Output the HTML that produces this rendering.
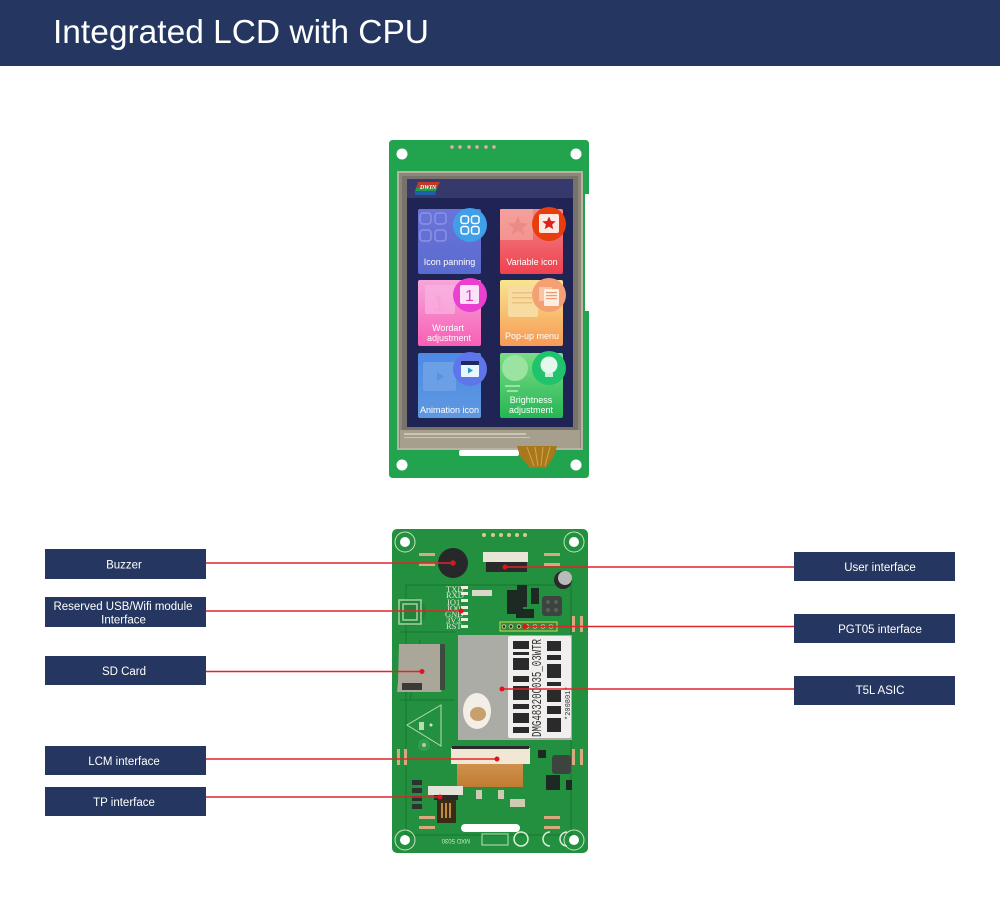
<!DOCTYPE html>
<html><head><meta charset="utf-8"><style>
html,body{margin:0;padding:0;background:#fff}
svg{display:block}
text{font-family:"Liberation Sans",sans-serif}
.l{fill:#fff;font-size:11.5px;text-anchor:middle}
.c{fill:#fff;font-size:9px;text-anchor:middle}
.s{font-family:"Liberation Serif",serif;font-size:8.5px;fill:#dfe8d6}
</style></head><body>
<svg width="1000" height="900" viewBox="0 0 1000 900" xmlns="http://www.w3.org/2000/svg">
<defs>
<linearGradient id="a" x1="0" y1="0" x2="0" y2="1"><stop offset="0" stop-color="#6a74d8"/><stop offset="1" stop-color="#5a6bd0"/></linearGradient>
<linearGradient id="b" x1="0" y1="0" x2="0" y2="1"><stop offset="0" stop-color="#f08a88"/><stop offset="1" stop-color="#f0414f"/></linearGradient>
<linearGradient id="c" x1="0" y1="0" x2="0" y2="1"><stop offset="0" stop-color="#f7a6dc"/><stop offset="1" stop-color="#f75fb5"/></linearGradient>
<linearGradient id="d" x1="0" y1="0" x2="0" y2="1"><stop offset="0" stop-color="#f7e58e"/><stop offset="1" stop-color="#f79a55"/></linearGradient>
<linearGradient id="e" x1="0" y1="0" x2="0" y2="1"><stop offset="0" stop-color="#4c8ae6"/><stop offset="1" stop-color="#5f98e0"/></linearGradient>
<linearGradient id="f" x1="0" y1="0" x2="0" y2="1"><stop offset="0" stop-color="#7cdc88"/><stop offset="1" stop-color="#25b653"/></linearGradient>
<linearGradient id="g" x1="0" y1="0" x2="0" y2="1"><stop offset="0" stop-color="#cf9050"/><stop offset="1" stop-color="#c07c30"/></linearGradient>
</defs>
<rect width="1000" height="900" fill="#fff"/>
<rect width="1000" height="66" fill="#253760"/>
<text x="53" y="43" font-size="33" fill="#fff" textLength="376" lengthAdjust="spacingAndGlyphs">Integrated LCD with CPU</text>

<!-- front board -->
<path d="M393 140H585Q589 140 589 144V194H585V311H589V474Q589 478 585 478H393Q389 478 389 474V144Q389 140 393 140Z" fill="#22a34e"/>
<circle cx="402" cy="154" r="5.5" fill="#fff"/><circle cx="576" cy="154" r="5.5" fill="#fff"/>
<circle cx="402" cy="465" r="5.5" fill="#fff"/><circle cx="576" cy="465" r="5.5" fill="#fff"/>
<g fill="#c8c49a" stroke="#777" stroke-width=".6"><circle cx="452" cy="147" r="2"/><circle cx="460" cy="147" r="2"/><circle cx="469" cy="147" r="2"/><circle cx="477" cy="147" r="2"/><circle cx="486" cy="147" r="2"/><circle cx="494" cy="147" r="2"/></g>
<rect x="397" y="171" width="186" height="279" fill="#b8b2a2"/>
<rect x="399" y="173" width="182" height="275" fill="#8c8778"/>
<rect x="402" y="176" width="176" height="254" fill="#77726a"/>
<rect x="400" y="430" width="180" height="18" fill="#a79f8e"/>
<path d="M404 433H526V435H404ZM404 437H530V438H404Z" fill="#cbc5b5"/>
<rect x="407" y="179" width="166" height="248" fill="#1f2454"/>
<rect x="407" y="179" width="166" height="19" fill="#35396b"/>
<path d="M418 182H440L437 188H416Z" fill="#c0392b"/><path d="M416 188H437L436 191H415Z" fill="#2a9a4a"/><path d="M415 191H436L435 195H415Z" fill="#1d5fa8"/>
<text x="428" y="189" font-size="6" font-weight="bold" font-style="italic" fill="#fff" text-anchor="middle" style="font-family:'Liberation Serif',serif">DWIN</text>

<rect x="418" y="209" width="63" height="65" rx="2" fill="url(#a)"/>
<rect x="500" y="209" width="63" height="65" rx="2" fill="url(#b)"/>
<rect x="418" y="280" width="63" height="66" rx="2" fill="url(#c)"/>
<rect x="500" y="280" width="63" height="66" rx="2" fill="url(#d)"/>
<rect x="418" y="353" width="63" height="65" rx="2" fill="url(#e)"/>
<rect x="500" y="353" width="63" height="65" rx="2" fill="url(#f)"/>
<g fill="none" stroke="#8a93e4" stroke-width="1.500"><rect x="420" y="213" width="11" height="11" rx="3"/><rect x="435" y="213" width="11" height="11" rx="3"/><rect x="420" y="230" width="11" height="11" rx="3"/><rect x="435" y="230" width="11" height="11" rx="3"/></g>
<rect x="500" y="209" width="33" height="31" fill="#f7b0a8" opacity=".6"/>
<path d="M518 216l3 7 7 .5-5.500 4.500 2 7-6.500-4-6.500 4 2-7-5.500-4.500 7-.5z" fill="#ee8a85"/>
<rect x="425" y="285" width="30" height="29" rx="2" fill="#f9b4e2" opacity=".7"/>
<text x="439" y="311" font-size="22" fill="#f79fd6" text-anchor="middle">1</text>
<rect x="508" y="285" width="30" height="32" rx="2" fill="#f8dba0"/>
<g fill="#e8c27e"><rect x="512" y="292" width="20" height="1.500"/><rect x="512" y="297" width="20" height="1.500"/><rect x="512" y="302" width="20" height="1.500"/></g>
<rect x="423" y="362" width="33" height="29" rx="2" fill="#6ba0e6"/><path d="M437 372l7 4.500-7 4.500z" fill="#5a92e0"/>
<circle cx="515" cy="368" r="13" fill="#9be3a0"/><rect x="505" y="385" width="15" height="2" fill="#9be3a0"/><rect x="507" y="390" width="11" height="2" fill="#9be3a0"/>

<circle cx="470" cy="225" r="17" fill="#3f9fe8"/>
<g fill="none" stroke="#fff" stroke-width="1.500"><rect x="461" y="216" width="7.500" height="7.500" rx="2.200"/><rect x="471.500" y="216" width="7.500" height="7.500" rx="2.200"/><rect x="461" y="226.500" width="7.500" height="7.500" rx="2.200"/><rect x="471.500" y="226.500" width="7.500" height="7.500" rx="2.200"/></g>
<circle cx="549" cy="224" r="17" fill="#e83d0c"/>
<rect x="539" y="214" width="20" height="19" rx="2" fill="#fde8e4"/>
<path d="M549 216.500l2 4.500 4.800.4-3.700 3.100 1.200 4.700-4.300-2.600-4.300 2.600 1.200-4.700-3.700-3.100 4.800-.4z" fill="#d8241c"/>
<circle cx="470" cy="295" r="17" fill="#ea3fd0"/>
<rect x="460" y="285" width="19" height="19" rx="2" fill="#fbe3f7"/>
<text x="469.500" y="301" font-size="16" fill="#e03cc4" text-anchor="middle">1</text>
<circle cx="549" cy="295" r="17" fill="#f4a074"/>
<rect x="539" y="287" width="13" height="14" fill="#f9c3a5"/>
<rect x="544" y="289" width="15" height="17" rx="1" fill="#fdeee3"/>
<g fill="#ee9a6c"><rect x="546" y="292" width="11" height="1.200"/><rect x="546" y="295" width="11" height="1.200"/><rect x="546" y="298" width="11" height="1.200"/></g>
<circle cx="470" cy="369" r="17" fill="#5f76ea"/>
<rect x="461" y="361" width="18" height="16" rx="1" fill="#eaf6fd"/><rect x="461" y="361" width="18" height="4" fill="#1d2a5a"/>
<path d="M468 367.500l5 3-5 3z" fill="#1f9ac0"/>
<circle cx="549" cy="368" r="17" fill="#1fc36b"/>
<circle cx="549" cy="365" r="8.500" fill="#e4f9ec"/><rect x="545" y="373" width="8" height="4" fill="#cfeedd"/>

<text class="c" x="449.500" y="265">Icon panning</text>
<text class="c" x="532" y="265">Variable icon</text>
<text class="c" x="448" y="331">Wordart</text><text class="c" x="449" y="341">adjustment</text>
<text class="c" x="532" y="339">Pop-up menu</text>
<text class="c" x="449.500" y="413">Animation icon</text>
<text class="c" x="531" y="403">Brightness</text><text class="c" x="531" y="413">adjustment</text>
<rect x="459" y="450" width="60" height="6" rx="2" fill="#fff"/>
<path d="M517 446H557L554 456L546 468H530L520 456Z" fill="#a8781e"/>
<g stroke="#d9a640" stroke-width="1" fill="none"><path d="M527 447L534 466M535 447L538 466M543 447L541 466M550 447L545 466"/></g>

<!-- back board -->
<rect x="392" y="529" width="196" height="324" rx="5" fill="#23903f"/>
<g stroke="#17772f" fill="none" stroke-width="1"><rect x="406" y="585" width="165" height="250"/><path d="M400 632H455M400 700H455M450 800L470 780M420 640L410 700"/></g>
<g fill="#fff"><circle cx="405" cy="542" r="5"/><circle cx="574" cy="542" r="5"/><circle cx="405" cy="840" r="5"/><circle cx="574" cy="840" r="5"/></g>
<g fill="none" stroke="#c6e3c2" stroke-width="1"><circle cx="405" cy="542" r="10"/><circle cx="574" cy="542" r="10"/><circle cx="405" cy="840" r="10"/><circle cx="574" cy="840" r="10"/></g>
<circle cx="453" cy="563" r="15" fill="#26282a"/><circle cx="453" cy="563" r="3" fill="#3a3a3a"/>
<g fill="#d9a87e"><rect x="419" y="553" width="16" height="3"/><rect x="419" y="563" width="16" height="3"/><rect x="544" y="553" width="16" height="3"/><rect x="544" y="563" width="16" height="3"/>
<rect x="419" y="816" width="16" height="3"/><rect x="419" y="826" width="16" height="3"/><rect x="544" y="816" width="16" height="3"/><rect x="544" y="826" width="16" height="3"/>
<rect x="572" y="616" width="3" height="16"/><rect x="580" y="616" width="3" height="16"/><rect x="572" y="749" width="3" height="16"/><rect x="580" y="749" width="3" height="16"/>
<rect x="397" y="749" width="3" height="16"/><rect x="404" y="749" width="3" height="16"/></g>
<g fill="#d8c898"><circle cx="484" cy="535" r="2"/><circle cx="493" cy="535" r="2"/><circle cx="501" cy="535" r="2"/><circle cx="509" cy="535" r="2"/><circle cx="517" cy="535" r="2"/><circle cx="525" cy="535" r="2"/></g>
<rect x="483" y="552" width="45" height="10" fill="#e8e4d6"/><rect x="486" y="562" width="41" height="10" fill="#2a2a2a"/>
<circle cx="563" cy="580" r="9" fill="#2b2b2b"/><circle cx="565" cy="578" r="7" fill="#b9bbb8"/>
<g fill="#1d2a24"><rect x="507" y="590" width="16" height="24"/><rect x="517" y="585" width="10" height="22"/><rect x="531" y="588" width="8" height="16"/><rect x="516" y="609" width="18" height="9"/></g>
<rect x="542" y="596" width="20" height="20" rx="3" fill="#3c4440"/>
<g fill="#55605a"><circle cx="548" cy="602" r="2"/><circle cx="556" cy="602" r="2"/><circle cx="548" cy="610" r="2"/><circle cx="556" cy="610" r="2"/></g>
<rect x="472" y="590" width="20" height="6" fill="#d9d7c8"/>
<text class="s" x="446" y="592">TXD</text><text class="s" x="446" y="598">RXD</text>
<text class="s" x="447" y="605">IO1</text><text class="s" x="447" y="611">IO0</text><text class="s" x="445" y="617">GND</text><text class="s" x="446" y="623">3V3</text><text class="s" x="446" y="629">RST</text>
<g fill="#eeeede"><rect x="461" y="586" width="7" height="3"/><rect x="461" y="592" width="7" height="3"/><rect x="461" y="599" width="7" height="3"/><rect x="461" y="606" width="7" height="3"/><rect x="461" y="612" width="7" height="3"/><rect x="461" y="618" width="7" height="3"/><rect x="461" y="625" width="7" height="3"/></g>
<circle cx="412" cy="612" r="14" fill="#1f8339"/>
<g fill="none" stroke="#a9cfa2" stroke-width="1.500"><rect x="399" y="600" width="22" height="24"/><rect x="403" y="604" width="14" height="16"/></g>
<rect x="500" y="622" width="57" height="9" fill="#2c8c40" stroke="#cbe04a" stroke-width="1"/>
<g fill="#222" stroke="#d9c98a" stroke-width="1"><circle cx="504" cy="626.500" r="1.800"/><circle cx="511" cy="626.500" r="1.800"/><circle cx="519" cy="626.500" r="1.800"/><circle cx="527" cy="626.500" r="1.800"/><circle cx="535" cy="626.500" r="1.800"/><circle cx="543" cy="626.500" r="1.800"/><circle cx="551" cy="626.500" r="1.800"/></g>
<path d="M399 644H441L445 650V680L441 692H397L398 682Z" fill="#aaa69a"/>
<rect x="402" y="683" width="20" height="7" fill="#3a3a38"/><path d="M440 644h5v46h-5z" fill="#3d4a40"/>
<rect x="458" y="635" width="114" height="105" fill="#acaca6"/>
<rect x="508" y="636" width="63" height="102" rx="2" fill="#f0efee"/>
<g fill="#2a2a2a"><rect x="513" y="641" width="16" height="8"/><rect x="513" y="652" width="16" height="3"/><rect x="513" y="658" width="16" height="12"/><rect x="513" y="676" width="16" height="6"/><rect x="513" y="686" width="16" height="14"/><rect x="513" y="704" width="16" height="5"/><rect x="513" y="713" width="16" height="10"/><rect x="513" y="727" width="16" height="6"/>
<rect x="547" y="641" width="14" height="10"/><rect x="547" y="655" width="14" height="5"/><rect x="547" y="664" width="14" height="14"/><rect x="547" y="682" width="14" height="4"/><rect x="547" y="690" width="14" height="12"/><rect x="547" y="706" width="14" height="8"/><rect x="547" y="718" width="14" height="14"/></g>
<text transform="translate(541,737) rotate(-90)" font-size="14" fill="#333" textLength="98" lengthAdjust="spacingAndGlyphs" style="font-family:'Liberation Mono',monospace">DMG48320C035_03WTR</text>
<text transform="translate(570,720) rotate(-90)" font-size="7" fill="#333" style="font-family:'Liberation Mono',monospace">*200801*</text>
<ellipse cx="477" cy="711" rx="14" ry="18" fill="#f3efe6"/><ellipse cx="478" cy="714" rx="8" ry="7" fill="#c8a070"/>
<path d="M441 705L407 725L441 746Z" fill="none" stroke="#b6dcb4" stroke-width="1"/>
<rect x="419" y="722" width="5" height="8" fill="#b6dcb4"/><circle cx="431" cy="725" r="1.500" fill="#cfe8c8"/>
<circle cx="424" cy="745" r="6" fill="#2e9e4e"/><circle cx="424" cy="745" r="2" fill="#c8c49a"/>
<rect x="451" y="748" width="79" height="16" fill="#f0e8d4"/><rect x="452" y="746" width="77" height="3" fill="#2a2a2a"/>
<rect x="457" y="764" width="66" height="23" fill="url(#g)"/>
<rect x="552" y="755" width="19" height="19" rx="3" fill="#3c4440"/>
<g fill="#1d2a24"><rect x="546" y="775" width="14" height="15"/><rect x="538" y="750" width="8" height="8"/><rect x="566" y="780" width="6" height="10"/></g>
<rect x="428" y="786" width="35" height="9" fill="#e3e3d8"/><rect x="434" y="795" width="24" height="5" fill="#2a2a2a"/>
<rect x="437" y="800" width="19" height="23" fill="#3a2a18"/><g fill="#c08a3a"><rect x="441" y="803" width="2" height="15"/><rect x="445" y="803" width="2" height="15"/><rect x="449" y="803" width="2" height="15"/></g>
<g fill="#2a3330"><rect x="412" y="780" width="10" height="5"/><rect x="412" y="788" width="10" height="5"/><rect x="412" y="796" width="10" height="5"/><rect x="412" y="804" width="10" height="5"/></g>
<g fill="#cfcab2"><rect x="476" y="790" width="6" height="9"/><rect x="498" y="790" width="6" height="9"/><rect x="510" y="799" width="15" height="8"/></g>
<rect x="461" y="824" width="59" height="8" rx="4" fill="#fff"/>
<rect x="482" y="834" width="26" height="11" fill="none" stroke="#bfe0bc"/>
<g fill="none" stroke="#dcefd8" stroke-width="1.500"><circle cx="521" cy="839" r="7"/><path d="M550 832a7 7 0 1 0 0 14M567 832a7 7 0 1 0 0 14"/></g>
<text transform="translate(470,839) rotate(180)" font-size="6" fill="#cfe8c8">MXD 5030</text>

<!-- connectors -->
<g stroke="#e02428" stroke-width="1.400" fill="none">
<path d="M206 563H453M206 611H461M206 671.500H422M206 759H497M206 797H440M794 567H505M794 626.500H525M794 689H502"/></g>
<g fill="#e0141c"><circle cx="453" cy="563" r="2.500"/><circle cx="461" cy="611" r="2.500"/><circle cx="422" cy="671.500" r="2.500"/><circle cx="497" cy="759" r="2.500"/><circle cx="440" cy="797" r="2.500"/><circle cx="505" cy="567" r="2.500"/><circle cx="525" cy="626.500" r="2.500"/><circle cx="502" cy="689" r="2.500"/></g>

<!-- label boxes -->
<g fill="#253760">
<rect x="45" y="549" width="161" height="30"/><rect x="45" y="597" width="161" height="30"/><rect x="45" y="656" width="161" height="29"/><rect x="45" y="746" width="161" height="29"/><rect x="45" y="787" width="161" height="29"/>
<rect x="794" y="552" width="161" height="29"/><rect x="794" y="614" width="161" height="29"/><rect x="794" y="676" width="161" height="29"/></g>
<text class="l" x="124" y="568.500">Buzzer</text>
<text class="l" x="123" y="610" textLength="139" lengthAdjust="spacingAndGlyphs">Reserved USB/Wifi module</text>
<text class="l" x="123.500" y="623.500">Interface</text>
<text class="l" x="124" y="675">SD Card</text>
<text class="l" x="124" y="765">LCM interface</text>
<text class="l" x="124" y="806">TP interface</text>
<text class="l" x="880" y="571">User interface</text>
<text class="l" x="880" y="633">PGT05 interface</text>
<text class="l" x="880" y="694">T5L ASIC</text>
</svg>
</body></html>
